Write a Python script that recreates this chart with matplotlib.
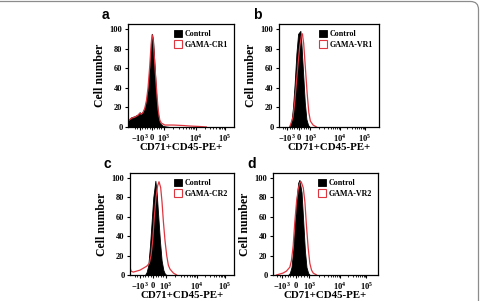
import numpy as np
import matplotlib
matplotlib.use("Agg")
import matplotlib.pyplot as plt
from matplotlib.patches import Patch, FancyBboxPatch
from matplotlib.transforms import IdentityTransform

plt.rcParams['font.family'] = 'Liberation Serif'
plt.rcParams['font.weight'] = 'bold'
plt.rcParams['mathtext.fontset'] = 'custom'
plt.rcParams['mathtext.rm'] = 'Liberation Serif:bold'
plt.rcParams['mathtext.bf'] = 'Liberation Serif:bold'

# x in display channels (0-1000 across each axis), y = cell number
ctrl_a_x = [0, 32, 63, 95, 110, 126, 142, 158, 174, 189, 205, 218, 227, 237, 252, 268, 284, 300, 331, 394]
ctrl_a_y = [7, 10, 11, 13, 15, 14, 16, 20, 28, 40, 62, 85, 95, 88, 60, 30, 12, 4, 1, 0]
test_a_x = [0, 32, 63, 95, 110, 126, 142, 158, 174, 189, 205, 218, 227, 237, 252, 268, 284, 300, 315, 347, 426, 521, 584, 678, 740]
test_a_y = [6, 9, 10, 12, 14, 13, 15, 19, 27, 40, 62, 84, 94, 90, 65, 40, 18, 7, 4, 2, 2, 1.5, 1, 0.5, 0]

ctrl_b_x = [100, 124, 140, 157, 174, 191, 214, 224, 241, 258, 274, 291, 308]
ctrl_b_y = [0, 5, 20, 45, 75, 95, 98, 85, 55, 25, 8, 2, 0]
test_b_x = [107, 140, 157, 174, 191, 207, 224, 234, 247, 264, 281, 298, 314, 341, 375]
test_b_y = [0, 10, 25, 45, 65, 82, 93, 95, 85, 60, 35, 15, 6, 2, 0]

ctrl_c_x = [144, 160, 176, 192, 208, 224, 244, 256, 272, 288, 304, 321, 337, 353]
ctrl_c_y = [0, 3, 10, 30, 55, 80, 97, 85, 60, 35, 15, 5, 1, 0]
test_c_x = [0, 10, 32, 96, 128, 160, 186, 202, 218, 234, 250, 266, 279, 295, 308, 321, 337, 353, 369, 385, 417, 449]
test_c_y = [8, 4, 3, 5, 7, 9, 12, 20, 35, 60, 80, 92, 96, 90, 75, 55, 35, 20, 10, 6, 2, 0]

ctrl_d_x = [144, 160, 176, 192, 208, 224, 240, 252, 272, 288, 304, 319, 335, 351]
ctrl_d_y = [0, 2, 8, 25, 50, 78, 95, 98, 85, 55, 25, 8, 2, 0]
test_d_x = [32, 64, 96, 128, 160, 176, 192, 208, 224, 240, 256, 268, 288, 304, 319, 335, 351, 367, 383, 415]
test_d_y = [0, 1, 2, 4, 8, 15, 30, 55, 75, 88, 95, 96, 90, 75, 50, 28, 12, 5, 2, 0]

# channel positions of -10^3, 0, 10^3, 10^4, 10^5 in each panel
ticks_a = [110, 227, 338, 640, 915]
ticks_b = [84, 201, 314, 609, 860]
ticks_c = [96, 224, 346, 641, 913]
ticks_d = [89, 217, 345, 639, 888]
tick_labels = [r'$-10^3$', r'$0$', r'$10^3$', r'$10^4$', r'$10^5$']

panels = [
    ('a', 'GAMA-CR1', ctrl_a_x, ctrl_a_y, test_a_x, test_a_y, ticks_a, [128, 234, 24, 127]),
    ('b', 'GAMA-VR1', ctrl_b_x, ctrl_b_y, test_b_x, test_b_y, ticks_b, [279, 379, 24, 127]),
    ('c', 'GAMA-CR2', ctrl_c_x, ctrl_c_y, test_c_x, test_c_y, ticks_c, [130, 234, 173, 275]),
    ('d', 'GAMA-VR2', ctrl_d_x, ctrl_d_y, test_d_x, test_d_y, ticks_d, [273, 378, 173, 275]),
]

W, H = 480, 301
fig = plt.figure(figsize=(4.8, 3.01), dpi=100)
red = '#e03640'

for letter, name, cx, cy, tx, ty, ticks, (l, r, t, b) in panels:
    ax = fig.add_axes([l / W, (H - b) / H, (r - l) / W, (b - t) / H])
    ax.fill_between(cx, cy, color='black', lw=0.6)
    ax.plot(tx, ty, color=red, lw=0.9)
    ax.set_xlim(0, 1000)
    ax.set_ylim(0, 105)
    ax.set_yticks([0, 20, 40, 60, 80, 100])
    ax.set_xticks(ticks)
    ax.set_xticklabels(tick_labels)
    # log-like minor ticks between decades
    minors = []
    for p0, p1 in [(ticks[2], ticks[3]), (ticks[3], ticks[4])]:
        minors += [p0 + (p1 - p0) * np.log10(k) for k in range(2, 10)]
    minors += [ticks[0] + (ticks[1] - ticks[0]) * k / 5 for k in range(1, 5)]
    minors += [ticks[1] + (ticks[2] - ticks[1]) * k / 5 for k in range(1, 5)]
    minors += [ticks[0] - (ticks[1] - ticks[0]) * k / 5 for k in range(1, 3)]
    ax.set_xticks(minors, minor=True)
    ax.tick_params(axis='both', which='major', labelsize=6, length=2.5, width=0.8, pad=1.5)
    ax.tick_params(axis='x', which='major', pad=1)
    ax.tick_params(axis='x', which='minor', length=1.5, width=0.6)
    for s in ax.spines.values():
        s.set_linewidth(0.9)
    ax.set_ylabel('Cell number', fontsize=8.5, fontweight='bold', labelpad=3)
    ax.set_xlabel('CD71+CD45-PE+', fontsize=7.8, fontweight='bold', va='center')
    ax.xaxis.set_label_coords(0.5, -20 / (b - t))
    handles = [Patch(facecolor='black', edgecolor='black', lw=0.6),
               Patch(facecolor='white', edgecolor=red, lw=0.8)]
    ax.legend(handles, ['Control', name], loc='upper right', frameon=False,
              prop={'family': 'Liberation Serif', 'weight': 'bold', 'size': 5.8},
              handlelength=1.0, handleheight=1.0, handletextpad=0.4,
              labelspacing=0.3, borderaxespad=0.3)
    fig.text((l - 26) / W, (H - t + 9) / H, letter, family='Liberation Sans',
             fontweight='bold', fontsize=10, ha='left', va='center')

frame = FancyBboxPatch((-20, -20), 498.5, 319.5,
                       boxstyle='round,pad=0,rounding_size=8',
                       transform=IdentityTransform(), fill=False,
                       edgecolor='#8c8c8c', lw=0.9)
fig.add_artist(frame)

fig.savefig('out.png', dpi=100)
